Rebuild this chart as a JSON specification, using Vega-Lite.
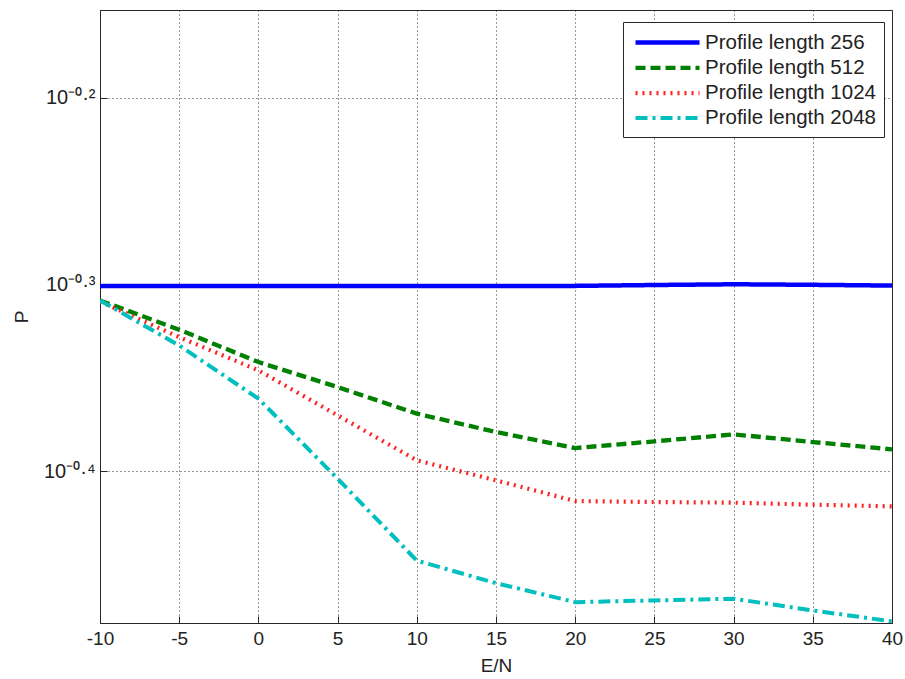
{
  "$schema": "https://vega.github.io/schema/vega-lite/v6.json",
  "width": 792,
  "height": 613,
  "autosize": "none",
  "padding": {"left": 100, "top": 10, "right": 13, "bottom": 56},
  "background": "white",
  "config": {
    "font": "Liberation Sans",
    "view": {"stroke": "#262626", "strokeWidth": 1}
  },
  "data": {
    "values": [
      {"x": -10, "s": "Profile length 256", "p": 0.50015},
      {"x": -5, "s": "Profile length 256", "p": 0.50027},
      {"x": 0, "s": "Profile length 256", "p": 0.50027},
      {"x": 5, "s": "Profile length 256", "p": 0.50027},
      {"x": 10, "s": "Profile length 256", "p": 0.50027},
      {"x": 15, "s": "Profile length 256", "p": 0.50027},
      {"x": 20, "s": "Profile length 256", "p": 0.50030},
      {"x": 25, "s": "Profile length 256", "p": 0.50084},
      {"x": 30, "s": "Profile length 256", "p": 0.50130},
      {"x": 35, "s": "Profile length 256", "p": 0.50096},
      {"x": 40, "s": "Profile length 256", "p": 0.50049},
      {"x": -10, "s": "Profile length 512", "p": 0.49139},
      {"x": -5, "s": "Profile length 512", "p": 0.47396},
      {"x": 0, "s": "Profile length 512", "p": 0.45543},
      {"x": 5, "s": "Profile length 512", "p": 0.44160},
      {"x": 10, "s": "Profile length 512", "p": 0.42736},
      {"x": 15, "s": "Profile length 512", "p": 0.41777},
      {"x": 20, "s": "Profile length 512", "p": 0.40960},
      {"x": 25, "s": "Profile length 512", "p": 0.41300},
      {"x": 30, "s": "Profile length 512", "p": 0.41658},
      {"x": 35, "s": "Profile length 512", "p": 0.41265},
      {"x": 40, "s": "Profile length 512", "p": 0.40895},
      {"x": -10, "s": "Profile length 1024", "p": 0.49079},
      {"x": -5, "s": "Profile length 1024", "p": 0.46965},
      {"x": 0, "s": "Profile length 1024", "p": 0.45080},
      {"x": 5, "s": "Profile length 1024", "p": 0.42646},
      {"x": 10, "s": "Profile length 1024", "p": 0.40344},
      {"x": 15, "s": "Profile length 1024", "p": 0.39361},
      {"x": 20, "s": "Profile length 1024", "p": 0.38367},
      {"x": 25, "s": "Profile length 1024", "p": 0.38321},
      {"x": 30, "s": "Profile length 1024", "p": 0.38292},
      {"x": 35, "s": "Profile length 1024", "p": 0.38197},
      {"x": 40, "s": "Profile length 1024", "p": 0.38117},
      {"x": -10, "s": "Profile length 2048", "p": 0.49139},
      {"x": -5, "s": "Profile length 2048", "p": 0.46487},
      {"x": 0, "s": "Profile length 2048", "p": 0.43534},
      {"x": 5, "s": "Profile length 2048", "p": 0.39443},
      {"x": 10, "s": "Profile length 2048", "p": 0.35649},
      {"x": 15, "s": "Profile length 2048", "p": 0.34674},
      {"x": 20, "s": "Profile length 2048", "p": 0.33871},
      {"x": 25, "s": "Profile length 2048", "p": 0.33942},
      {"x": 30, "s": "Profile length 2048", "p": 0.34013},
      {"x": 35, "s": "Profile length 2048", "p": 0.33526},
      {"x": 40, "s": "Profile length 2048", "p": 0.33075}
    ]
  },
  "mark": {"type": "line", "strokeCap": "butt", "clip": true},
  "encoding": {
    "x": {
      "field": "x",
      "type": "quantitative",
      "scale": {"domain": [-10, 40], "nice": false, "zero": false},
      "axis": {
        "title": "E/N",
        "values": [-10, -5, 0, 5, 10, 15, 20, 25, 30, 35, 40],
        "labelExpr": "'' + datum.value",
        "labelFlush": false,
        "labelOverlap": false,
        "grid": true,
        "gridColor": "#333333",
        "gridDash": [1, 3],
        "gridWidth": 1,
        "domainColor": "#262626",
        "tickColor": "#262626",
        "tickSize": -7,
        "labelPadding": 13,
        "labelFontSize": 19,
        "labelColor": "#222222",
        "labelFont": "Liberation Sans",
        "titleFontSize": 19,
        "titleFontWeight": "normal",
        "titleColor": "#222222",
        "titlePadding": 8
      }
    },
    "y": {
      "field": "p",
      "type": "quantitative",
      "scale": {"type": "log", "domain": [0.3301, 0.7031], "nice": false, "zero": false},
      "axis": {
        "title": "P",
        "values": [0.398107, 0.501187, 0.630957],
        "labelExpr": "datum.value > 0.6 ? '10⁻⁰·²' : datum.value > 0.45 ? '10⁻⁰·³' : '10⁻⁰·⁴'",
        "labelFlush": false,
        "grid": true,
        "gridColor": "#333333",
        "gridDash": [1, 3],
        "gridWidth": 1,
        "domainColor": "#262626",
        "tickColor": "#262626",
        "tickSize": -7,
        "labelPadding": 12,
        "labelFontSize": 20,
        "labelColor": "#222222",
        "labelFont": "Liberation Sans",
        "titleFontSize": 19,
        "titleFontWeight": "normal",
        "titleColor": "#222222",
        "titlePadding": 12
      }
    },
    "color": {
      "field": "s",
      "type": "nominal",
      "scale": {
        "domain": ["Profile length 256", "Profile length 512", "Profile length 1024", "Profile length 2048"],
        "range": ["#0000ff", "#008000", "#ff2020", "#00bfbf"]
      },
      "legend": {
        "title": null,
        "orient": "none",
        "legendX": 523,
        "legendY": 12,
        "symbolType": "M-3.2,0H3.2",
        "symbolSize": 400,
        "symbolOffset": 24,
        "labelOffset": 25,
        "labelLimit": 0,
        "labelFontSize": 20.5,
        "labelColor": "#222222",
        "labelFont": "Liberation Sans",
        "strokeColor": "#262626",
        "fillColor": "white",
        "padding": 8,
        "rowPadding": 2.3,
        "cornerRadius": 0
      }
    },
    "strokeDash": {
      "field": "s",
      "type": "nominal",
      "scale": {
        "domain": ["Profile length 256", "Profile length 512", "Profile length 1024", "Profile length 2048"],
        "range": [[1, 0], [10, 5], [2, 5], [12, 5, 3, 5]]
      },
      "legend": null
    },
    "strokeWidth": {
      "field": "s",
      "type": "nominal",
      "scale": {
        "domain": ["Profile length 256", "Profile length 512", "Profile length 1024", "Profile length 2048"],
        "range": [4.5, 4, 2.5, 4]
      },
      "legend": null
    }
  }
}
